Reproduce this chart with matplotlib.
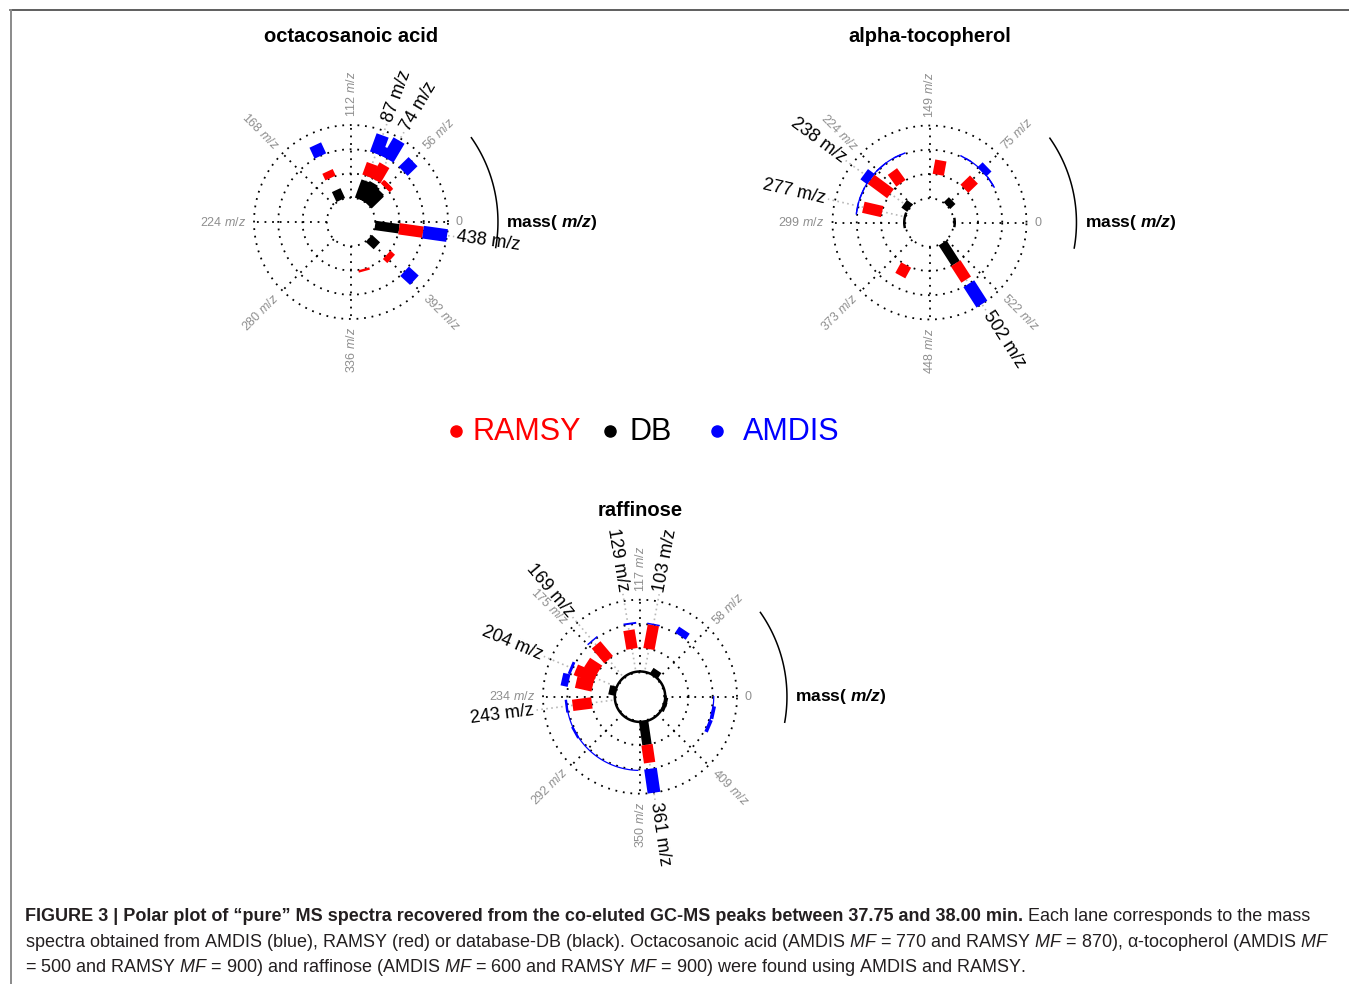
import matplotlib
matplotlib.use('Agg')
import matplotlib.pyplot as plt
import numpy as np
from matplotlib.lines import Line2D

plt.rcParams['font.family'] = ['Liberation Sans', 'DejaVu Sans']
plt.rcParams['mathtext.fontset'] = 'custom'
plt.rcParams['mathtext.rm'] = 'Liberation Sans'
plt.rcParams['mathtext.it'] = 'Liberation Sans:italic'
plt.rcParams['mathtext.bf'] = 'Liberation Sans:bold'
plt.rcParams['mathtext.bfit'] = 'Liberation Sans:italic:bold'

W, H = 1349, 984

# lanes from the inside out: DB, RAMSY, AMDIS
lane_names = ['DB', 'RAMSY', 'AMDIS']
lane_colors = ['black', '#ff0000', '#0000ff']
lane_lw = [6.8, 8.2, 9.2]

# octacosanoic acid, one turn = 448 m/z
octa_turn = 448
octa_ticks = [0, 56, 112, 168, 224, 280, 336, 392]
octa_db_mz = [55, 57, 69, 74, 75, 83, 87, 143, 395, 438]
octa_db_int = [0.7, 0.75, 0.8, 0.85, 0.6, 0.6, 0.8, 0.45, 0.45, 1.0]
octa_ramsy_mz = [55, 57, 74, 81, 87, 143, 355, 395, 438]
octa_ramsy_int = [0.2, 0.2, 0.72, 0.35, 0.55, 0.3, 0.1, 0.25, 1.0]
octa_amdis_mz = [55, 74, 81, 87, 143, 395, 438]
octa_amdis_int = [0.57, 0.9, 0.4, 0.8, 0.5, 0.55, 1.0]
octa_labels = [87, 74, 438]

# alpha-tocopherol, one turn = 597 m/z
toco_turn = 597
toco_ticks = [0, 75, 149, 224, 299, 373, 448, 522]
toco_db_mz = [73, 238, 502]
toco_db_int = [0.3, 0.3, 1.0]
toco_ramsy_mz = [73, 132, 209, 238, 277, 400, 502]
toco_ramsy_int = [0.55, 0.6, 0.6, 1.0, 0.8, 0.5, 0.8]
toco_amdis_mz = [55, 73, 100, 189, 217, 238, 260, 280, 502]
toco_amdis_int = [0.06, 0.3, 0.06, 0.06, 0.06, 0.35, 0.06, 0.06, 1.0]
toco_db_floor = [(0, 13), (265, 315), (584, 597)]
toco_amdis_floor = [(50, 100), (187, 285)]
toco_labels = [238, 277, 502]

# raffinose, one turn = 467 m/z
raf_turn = 467
raf_ticks = [0, 58, 117, 175, 234, 292, 350, 409]
raf_db_mz = [73, 217, 361, 437, 451]
raf_db_int = [0.3, 0.3, 1.0, 0.15, 0.15]
raf_ramsy_mz = [103, 129, 169, 191, 204, 217, 243, 361]
raf_ramsy_int = [1.0, 0.78, 0.8, 0.6, 0.87, 0.7, 0.8, 0.75]
raf_amdis_mz = [73, 103, 127, 169, 204, 217, 243, 271, 361, 437, 451]
raf_amdis_int = [0.3, 0.06, 0.08, 0.06, 0.12, 0.3, 0.1, 0.1, 1.0, 0.15, 0.15]
raf_db_floor = [(0, 467)]
raf_amdis_floor = [(240, 348), (440, 467)]
raf_labels = [169, 129, 103, 204, 243, 361]

UNIT = 24.25  # pixels per lane
GRAY = '#8f8f8f'
DOTS = (0, (1, 3.2))


def radial_text(ax, deg, r, s, **kw):
    a = deg % 360
    if a <= 90 or a > 270:
        rot, ha = a, 'left'
    else:
        rot, ha = a - 180, 'right'
    ax.text(np.radians(deg), r, s, rotation=rot, rotation_mode='anchor',
            ha=ha, va='center', clip_on=False, **kw)


def draw_panel(fig, center, title, title_y, turn, ticks, lanes, floors, labels):
    cx, cy = center
    rad = 4 * UNIT
    ax = fig.add_axes([(cx - rad) / W, 1 - (cy + rad) / H, 2 * rad / W, 2 * rad / H],
                      projection='polar')
    ax.set_ylim(0, 4)
    ax.axis('off')

    def th(mz):
        return 2 * np.pi * np.asarray(mz, dtype=float) / turn

    full = np.linspace(0, 2 * np.pi, 400)
    for r in [1, 2, 3, 4]:
        ax.plot(full, np.full_like(full, r), color='black', lw=1.3, ls=DOTS,
                zorder=1, clip_on=False)
    for k in range(8):
        t = k * np.pi / 4
        ax.plot([t, t], [1, 4], color='black', lw=1.3, ls=DOTS, zorder=1, clip_on=False)

    # guides from the labelled peaks out to their labels
    for m in labels:
        t = th(m)
        ax.plot([t, t], [1.15, 4.3], color='#b8b8b8', lw=1.2, ls=(0, (1, 2)),
                zorder=1.5, clip_on=False)

    # low-level peaks that merge into a thin arc along a lane
    for i, arcs in enumerate(floors):
        for lo, hi in arcs:
            tt = np.linspace(th(lo), th(hi), 120)
            ax.plot(tt, np.full_like(tt, 1 + i + 0.04), color=lane_colors[i],
                    lw=1.8 if i == 0 else 0.9, zorder=2.5, clip_on=False)

    for i, (mz, inten) in enumerate(lanes):
        for m, v in zip(mz, inten):
            t = th(m)
            ax.plot([t, t], [1 + i, 1 + i + v], color=lane_colors[i], lw=lane_lw[i],
                    solid_capstyle='butt', zorder=3, clip_on=False)

    for k, v in enumerate(ticks):
        s = '0' if v == 0 else f'{v} $\\mathit{{m/z}}$'
        radial_text(ax, 45 * k, 4.32, s, color=GRAY, fontsize=9)

    for m in labels:
        radial_text(ax, 360.0 * m / turn, 4.4, f'{m} m/z', color='black', fontsize=13)

    arc = np.radians(np.linspace(-10, 35, 80))
    ax.plot(arc, np.full_like(arc, 6.06), color='black', lw=1.1, clip_on=False)
    ax.text(0, 6.4, r'mass( $\mathbfit{m/z}$)', fontweight='bold', fontsize=12.5,
            ha='left', va='center', clip_on=False)

    fig.text(cx / W, 1 - title_y / H, title, fontweight='bold', fontsize=14.5,
             ha='center', va='center')
    return ax


fig = plt.figure(figsize=(W / 100, H / 100), dpi=100)

draw_panel(fig, (351, 222), 'octacosanoic acid', 36, octa_turn, octa_ticks,
           [(octa_db_mz, octa_db_int), (octa_ramsy_mz, octa_ramsy_int),
            (octa_amdis_mz, octa_amdis_int)],
           [[], [], []], octa_labels)
draw_panel(fig, (929.5, 222.5), 'alpha-tocopherol', 36, toco_turn, toco_ticks,
           [(toco_db_mz, toco_db_int), (toco_ramsy_mz, toco_ramsy_int),
            (toco_amdis_mz, toco_amdis_int)],
           [toco_db_floor, [], toco_amdis_floor], toco_labels)
draw_panel(fig, (640, 696.7), 'raffinose', 510, raf_turn, raf_ticks,
           [(raf_db_mz, raf_db_int), (raf_ramsy_mz, raf_ramsy_int),
            (raf_amdis_mz, raf_amdis_int)],
           [raf_db_floor, [], raf_amdis_floor], raf_labels)

# legend
legend_order = [1, 0, 2]
legend_dot_x = [456, 610, 717]
legend_text_x = [472.7, 629, 742.7]
for j, i in enumerate(legend_order):
    fig.add_artist(Line2D([legend_dot_x[j] / W], [1 - 431 / H], marker='o', ms=8,
                          color=lane_colors[i], transform=fig.transFigure))
    fig.text(legend_text_x[j] / W, 1 - 440 / H, lane_names[i], color=lane_colors[i],
             fontsize=22, ha='left', va='baseline')

# frame around the figure
fig.add_artist(Line2D([10 / W, 1], [1 - 9.5 / H] * 2, color='#333333', lw=1.1,
                      transform=fig.transFigure))
fig.add_artist(Line2D([10.5 / W] * 2, [0, 1 - 9.5 / H], color='#8a8a8a', lw=1.4,
                      transform=fig.transFigure))

# caption
cap_bold = ('FIGURE 3 | Polar plot of \u201cpure\u201d MS spectra recovered from the '
            'co-eluted GC-MS peaks between 37.75 and 38.00 min.')
cap_1 = ' Each lane corresponds to the mass'
cap_2 = (r'spectra obtained from AMDIS (blue), RAMSY (red) or database-DB (black). '
         r'Octacosanoic acid (AMDIS $\mathit{MF}$ = 770 and RAMSY $\mathit{MF}$ = 870), '
         '\u03b1-tocopherol (AMDIS $\\mathit{MF}$')
cap_3 = (r'= 500 and RAMSY $\mathit{MF}$ = 900) and raffinose (AMDIS $\mathit{MF}$ = 600 '
         r'and RAMSY $\mathit{MF}$ = 900) were found using AMDIS and RAMSY.')
cap_color = '#231f20'

renderer = fig.canvas.get_renderer()
pb = fig.text(0, 0, cap_bold, fontsize=12, fontweight='bold')
pn = fig.text(0, 0, cap_1, fontsize=12)
p2 = fig.text(0, 0, cap_2, fontsize=12)
w1 = pb.get_window_extent(renderer).width + pn.get_window_extent(renderer).width
w2 = p2.get_window_extent(renderer).width
cap_size = 12 * min(1318 / w1, 1306 / w2)
for p in (pb, pn, p2):
    p.remove()

x0 = 25
t = fig.text(x0 / W, 1 - 921 / H, cap_bold, fontsize=cap_size, fontweight='bold',
             color=cap_color, va='baseline')
bw = t.get_window_extent(renderer).width
fig.text((x0 + bw) / W, 1 - 921 / H, cap_1, fontsize=cap_size, color=cap_color,
         va='baseline')
fig.text(x0 / W, 1 - 947 / H, cap_2, fontsize=cap_size, color=cap_color, va='baseline')
fig.text(x0 / W, 1 - 972 / H, cap_3, fontsize=cap_size, color=cap_color, va='baseline')

fig.savefig('out.png', dpi=100, facecolor='white')
